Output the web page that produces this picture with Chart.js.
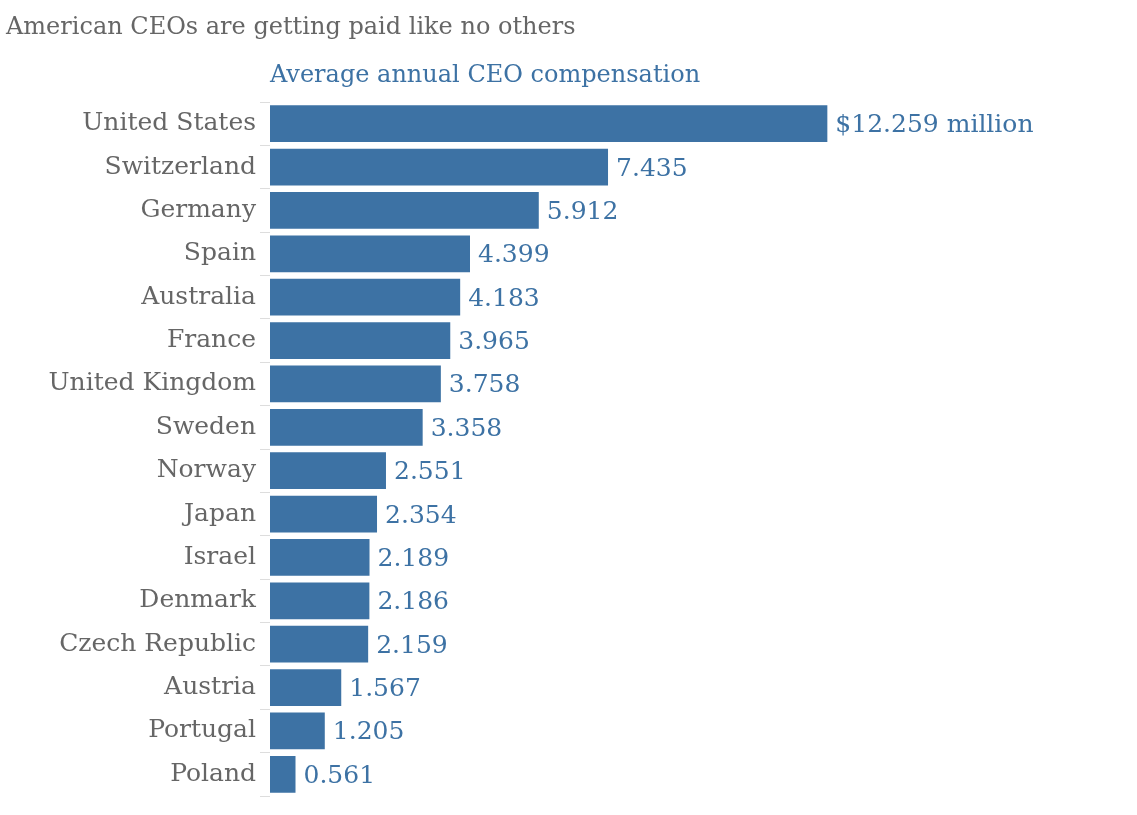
<!DOCTYPE html>
<html>
<head>
<meta charset="utf-8">
<script src="https://cdn.jsdelivr.net/npm/chart.js@4"></script>
<style>
  html, body { margin: 0; padding: 0; background: #fff; }
  #wrap { width: 1137px; height: 815px; }
</style>
</head>
<body>
<div id="wrap"><canvas id="ceoChart"></canvas></div>
<script>
const countries = ["United States", "Switzerland", "Germany", "Spain", "Australia", "France",
  "United Kingdom", "Sweden", "Norway", "Japan", "Israel", "Denmark", "Czech Republic",
  "Austria", "Portugal", "Poland"];
const compensation = [12.259, 7.435, 5.912, 4.399, 4.183, 3.965, 3.758, 3.358, 2.551, 2.354,
  2.189, 2.186, 2.159, 1.567, 1.205, 0.561];
const valueLabels = ["$12.259 million", "7.435", "5.912", "4.399", "4.183", "3.965", "3.758",
  "3.358", "2.551", "2.354", "2.189", "2.186", "2.159", "1.567", "1.205", "0.561"];

const FONT = "'DejaVu Serif', serif";
const BLUE = "#3d72a4";

// Titles and value labels drawn on canvas
const textPlugin = {
  id: "textPlugin",
  afterDatasetsDraw(chart) {
    const ctx = chart.ctx;
    const area = chart.chartArea;
    ctx.save();
    ctx.textBaseline = "middle";
    ctx.textAlign = "left";
    ctx.fillStyle = "#666";
    ctx.font = "24px " + FONT;
    ctx.fillText("American CEOs are getting paid like no others", 6, 28);
    ctx.fillStyle = BLUE;
    ctx.font = "24px " + FONT;
    ctx.fillText("Average annual CEO compensation", area.left, 76);

    ctx.font = "25px " + FONT;
    chart.getDatasetMeta(0).data.forEach(function (bar, i) {
      ctx.fillText(valueLabels[i], bar.x + 8, bar.y + 2);
    });
    ctx.restore();
  }
};

new Chart(document.getElementById("ceoChart").getContext("2d"), {
  type: "bar",
  data: {
    labels: countries,
    datasets: [{
      data: compensation,
      backgroundColor: BLUE,
      barPercentage: 0.85,
      categoryPercentage: 1
    }]
  },
  options: {
    indexAxis: "y",
    responsive: true,
    maintainAspectRatio: false,
    animation: false,
    layout: { padding: { top: 102, bottom: 13, left: 0, right: 10 } },
    plugins: {
      legend: { display: false },
      tooltip: { enabled: false }
    },
    scales: {
      x: { display: false, min: 0, max: 18.85 },
      y: {
        afterFit(scale) { scale.width = 270; },
        border: { display: false },
        grid: { drawOnChartArea: false, drawTicks: true, tickLength: 10, color: "#ddd" },
        ticks: {
          color: "#666",
          padding: 4,
          font: { family: FONT, size: 25 }
        }
      }
    }
  },
  plugins: [textPlugin]
});
</script>
</body>
</html>
